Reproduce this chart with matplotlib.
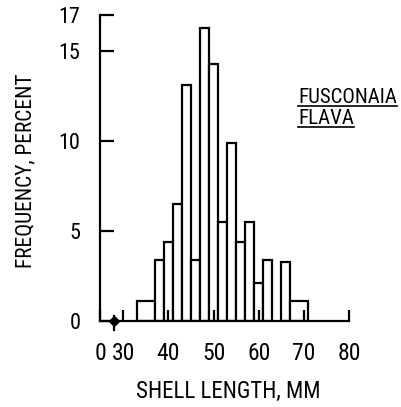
import matplotlib
matplotlib.use("Agg")
import matplotlib.pyplot as plt
from matplotlib.lines import Line2D

# histogram of shell length (mm) -> frequency (%)
bin_edges = [33, 37, 39, 41, 43, 45, 47, 49, 51, 53, 55, 57, 59, 61, 63, 65, 67, 71]
freq_pct = [1.1, 3.4, 4.4, 6.5, 13.1, 3.4, 16.3, 14.3, 5.5, 9.9, 4.4, 5.5, 2.1, 3.4, 0.0, 3.3, 1.1]

x_ticks = [30, 40, 50, 60, 70, 80]
x_tick_labels = ['30', '40', '50', '60', '70', '80']
y_ticks = [0, 5, 10, 15, 17]
y_tick_labels = ['0', '5', '10', '15', '17']
species = ['FUSCONAIA', 'FLAVA']

x_left = 24.83  # axis is broken, left end labelled 0

plt.rcParams['font.family'] = ['Roboto Condensed', 'DejaVu Sans']

fig = plt.figure(figsize=(4.02, 4.07), dpi=100)
ax = fig.add_axes([100 / 402, 86 / 407, 249 / 402, 306 / 407])

lefts = bin_edges[:-1]
widths = [b - a for a, b in zip(bin_edges[:-1], bin_edges[1:])]
for l, w, h in zip(lefts, widths, freq_pct):
    if h > 0:
        ax.bar(l, h, width=w, align='edge', facecolor='white', edgecolor='black', linewidth=1.6)

ax.set_xlim(x_left, 80)
ax.set_ylim(0, 17)
ax.spines['top'].set_visible(False)
ax.spines['right'].set_visible(False)
for s in ['left', 'bottom']:
    ax.spines[s].set_linewidth(1.6)

ax.set_xticks([x_left] + x_ticks)
ax.set_xticklabels(['0'] + x_tick_labels)
ax.set_yticks(y_ticks)
ax.set_yticklabels(y_tick_labels)
ax.tick_params(axis='x', direction='in', length=8, width=1.6, pad=15, labelsize=17)
ax.tick_params(axis='y', direction='in', length=10, width=1.6, pad=14, labelsize=16)

ax.set_xlabel('SHELL LENGTH, MM', fontsize=16.5)
ax.xaxis.set_label_coords(0.516, -0.193)
ax.set_ylabel('FREQUENCY, PERCENT', fontsize=15.5)
ax.yaxis.set_label_coords(-0.255, 0.49)

# axis break mark
ax.plot([27.9], [0], marker='D', color='black', markersize=5, clip_on=False)
ax.plot([27.9, 27.9], [-0.5, 0.3], color='black', linewidth=1.6, clip_on=False)

# species name, underlined
t1 = fig.text(298 / 402, 1 - 103 / 407, species[0], fontsize=15, ha='left', va='baseline')
t2 = fig.text(298 / 402, 1 - 124 / 407, species[1], fontsize=15, ha='left', va='baseline')
fig.canvas.draw()
r = fig.canvas.get_renderer()
for t in (t1, t2):
    bb = t.get_window_extent(renderer=r).transformed(fig.transFigure.inverted())
    y0 = t.get_position()[1] - 2.5 / 407
    fig.add_artist(Line2D([bb.x0, bb.x1], [y0, y0], color='black', linewidth=1.2,
                          transform=fig.transFigure))

fig.savefig('out.png', dpi=100)
